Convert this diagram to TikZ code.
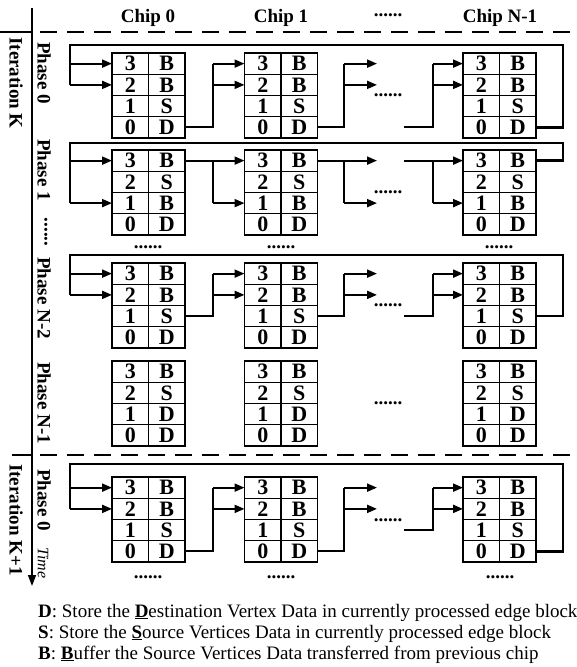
\documentclass[tikz,border=0pt]{standalone}
\usepackage{fontspec}
\setmainfont{Liberation Serif}
\usetikzlibrary{arrows.meta}
\tikzset{
 cell/.style={draw, line width=1.3pt, minimum width=36.5pt, minimum height=21.25pt, inner sep=0pt, outer sep=0pt, font=\fontsize{22}{22}\selectfont\bfseries},
 conn/.style={line width=2pt},
 arr/.style={line width=2pt, -{Triangle[length=10pt,width=8pt]}},
 fbl/.style={line width=2.5pt},
 lbl/.style={font=\fontsize{19}{19}\selectfont\bfseries, inner sep=0pt},
 vlbl/.style={lbl, rotate=-90},
 dotstyle/.style={font=\fontsize{19}{19}\selectfont\bfseries, inner sep=0pt},
 sepline/.style={line width=2pt, dash pattern=on 17pt off 10pt},
 legend/.style={font=\fontsize{19}{19}\selectfont, anchor=base west, inner sep=0pt}
}
\newcommand\chipbox[7]{%
 \node[cell,anchor=north west] (#1L3) at (#2,#3) {3};
 \node[cell,anchor=north west] (#1R3) at (#2+36.5,#3) {#4};
 \node[cell,anchor=north west] (#1L2) at (#2,#3+21.25) {2};
 \node[cell,anchor=north west] (#1R2) at (#2+36.5,#3+21.25) {#5};
 \node[cell,anchor=north west] (#1L1) at (#2,#3+42.5) {1};
 \node[cell,anchor=north west] (#1R1) at (#2+36.5,#3+42.5) {#6};
 \node[cell,anchor=north west] (#1L0) at (#2,#3+63.75) {0};
 \node[cell,anchor=north west] (#1R0) at (#2+36.5,#3+63.75) {#7};
}
\begin{document}
\begin{tikzpicture}[x=1pt,y=-1pt]
\useasboundingbox (0,0) rectangle (576,667);

% axis and separators
\coordinate (axT) at (32,8);
\coordinate (axB) at (32,586);
\draw[line width=1.5pt, -{Triangle[length=11pt,width=8pt]}] (axT) -- (axB);
\coordinate (s1a) at (0,32); \coordinate (s1b) at (32,32);
\coordinate (s1c) at (40,32); \coordinate (s1d) at (576,32);
\coordinate (s2a) at (12,455); \coordinate (s2b) at (32,455);
\coordinate (s2c) at (40,455); \coordinate (s2d) at (576,455);
\draw[line width=2pt] (s1a) -- (s1b);
\draw[line width=2pt] (s2a) -- (s2b);
\draw[sepline] (s1c) -- (s1d);
\draw[sepline] (s2c) -- (s2d);

% header
\node[lbl, anchor=base] (h0) at (148,22.5) {Chip 0};
\node[lbl, anchor=base] (h1) at (281,22.5) {Chip 1};
\node[dotstyle] (hd) at (388,15) {......};
\node[lbl, anchor=base] (h2) at (500,22.5) {Chip N-1};

% left labels
\node[vlbl] (itK) at (16,83) {Iteration K};
\node[vlbl] (itK1) at (16,520) {Iteration K+1};
\node[vlbl] (pA) at (44,73) {Phase 0};
\node[vlbl] (pB) at (44,170) {Phase 1};
\node[dotstyle, rotate=-90] (pdots) at (46,232) {......};
\node[vlbl] (pC) at (44,298) {Phase N-2};
\node[vlbl] (pD) at (44,403) {Phase N-1};
\node[vlbl] (pE) at (44,500) {Phase 0};
\node[font=\fontsize{16}{16}\selectfont\itshape, rotate=-90, inner sep=0pt] (time) at (43,563) {Time};

% shared x positions
\coordinate (jx1) at (213,0);
\coordinate (jx2) at (344,0);
\coordinate (jx3) at (433,0);
\coordinate (tipx) at (377,0);
\coordinate (srcx) at (404,0);

% ---------------- Phase 0 (K)
\chipbox{Aa}{112}{53}{B}{B}{S}{D}
\chipbox{Ab}{244.5}{53}{B}{B}{S}{D}
\chipbox{Ac}{463}{53}{B}{B}{S}{D}
\coordinate (AfR) at (563,45); \coordinate (AfL) at (70,45);
\draw[fbl] (AcR0.east) -| (AfR) -- (AfL) -- (AfL |- AaL2.west);
\draw[arr] (AfL |- AaL3.west) -- (AaL3.west);
\draw[arr] (AfL |- AaL2.west) -- (AaL2.west);
\draw[conn] (AaR0.east) -| (jx1 |- AbL3.west);
\draw[arr] (jx1 |- AbL3.west) -- (AbL3.west);
\draw[arr] (jx1 |- AbL2.west) -- (AbL2.west);
\draw[conn] (AbR0.east) -| (jx2 |- AbL3.west);
\draw[arr] (jx2 |- AbL3.west) -- (tipx |- AbL3.west);
\draw[arr] (jx2 |- AbL2.west) -- (tipx |- AbL2.west);
\draw[conn] (srcx |- AcL0.west) -| (jx3 |- AcL3.west);
\draw[arr] (jx3 |- AcL3.west) -- (AcL3.west);
\draw[arr] (jx3 |- AcL2.west) -- (AcL2.west);
\node[dotstyle] (Ad) at (388,95) {......};

% ---------------- Phase 1
\chipbox{Ba}{112}{150}{B}{S}{B}{D}
\chipbox{Bb}{244.5}{150}{B}{S}{B}{D}
\chipbox{Bc}{463}{150}{B}{S}{B}{D}
\coordinate (BfR) at (563,143); \coordinate (BfL) at (70,143);
\draw[fbl] (BcR3.east) -| (BfR) -- (BfL) -- (BfL |- BaL1.west);
\draw[arr] (BfL |- BaL3.west) -- (BaL3.west);
\draw[arr] (BfL |- BaL1.west) -- (BaL1.west);
\draw[arr] (BaR3.east) -- (BbL3.west);
\draw[conn] (jx1 |- BbL3.west) -- (jx1 |- BbL1.west);
\draw[arr] (jx1 |- BbL1.west) -- (BbL1.west);
\draw[arr] (BbR3.east) -- (tipx |- BbL3.west);
\draw[conn] (jx2 |- BbL3.west) -- (jx2 |- BbL1.west);
\draw[arr] (jx2 |- BbL1.west) -- (tipx |- BbL1.west);
\draw[arr] (srcx |- BcL3.west) -- (BcL3.west);
\draw[conn] (jx3 |- BcL3.west) -- (jx3 |- BcL1.west);
\draw[arr] (jx3 |- BcL1.west) -- (BcL1.west);
\node[dotstyle] (Bd) at (388,192) {......};
\node[dotstyle] (u0) at (148,247) {......};
\node[dotstyle] (u1) at (281,247) {......};
\node[dotstyle] (u2) at (499,247) {......};

% ---------------- Phase N-2
\chipbox{Ca}{112}{263}{B}{B}{S}{D}
\chipbox{Cb}{244.5}{263}{B}{B}{S}{D}
\chipbox{Cc}{463}{263}{B}{B}{S}{D}
\coordinate (CfR) at (563,255); \coordinate (CfL) at (70,255);
\draw[fbl] (CcR1.east) -| (CfR) -- (CfL) -- (CfL |- CaL2.west);
\draw[arr] (CfL |- CaL3.west) -- (CaL3.west);
\draw[arr] (CfL |- CaL2.west) -- (CaL2.west);
\draw[conn] (CaR1.east) -| (jx1 |- CbL3.west);
\draw[arr] (jx1 |- CbL3.west) -- (CbL3.west);
\draw[arr] (jx1 |- CbL2.west) -- (CbL2.west);
\draw[conn] (CbR1.east) -| (jx2 |- CbL3.west);
\draw[arr] (jx2 |- CbL3.west) -- (tipx |- CbL3.west);
\draw[arr] (jx2 |- CbL2.west) -- (tipx |- CbL2.west);
\draw[conn] (srcx |- CcL1.west) -| (jx3 |- CcL3.west);
\draw[arr] (jx3 |- CcL3.west) -- (CcL3.west);
\draw[arr] (jx3 |- CcL2.west) -- (CcL2.west);
\node[dotstyle] (Cd) at (388,305) {......};

% ---------------- Phase N-1
\chipbox{Da}{112}{361}{B}{S}{D}{D}
\chipbox{Db}{244.5}{361}{B}{S}{D}{D}
\chipbox{Dc}{463}{361}{B}{S}{D}{D}
\node[dotstyle] (Dd) at (388,403) {......};

% ---------------- Phase 0 (K+1)
\chipbox{Ea}{112}{477}{B}{B}{S}{D}
\chipbox{Eb}{244.5}{477}{B}{B}{S}{D}
\chipbox{Ec}{463}{477}{B}{B}{S}{D}
\coordinate (EfR) at (563,464); \coordinate (EfL) at (70,464);
\draw[fbl] (EcR0.east) -| (EfR) -- (EfL) -- (EfL |- EaL2.west);
\draw[arr] (EfL |- EaL3.west) -- (EaL3.west);
\draw[arr] (EfL |- EaL2.west) -- (EaL2.west);
\draw[conn] (EaR0.east) -| (jx1 |- EbL3.west);
\draw[arr] (jx1 |- EbL3.west) -- (EbL3.west);
\draw[arr] (jx1 |- EbL2.west) -- (EbL2.west);
\draw[conn] (EbR0.east) -| (jx2 |- EbL3.west);
\draw[arr] (jx2 |- EbL3.west) -- (tipx |- EbL3.west);
\draw[arr] (jx2 |- EbL2.west) -- (tipx |- EbL2.west);
\draw[conn] (srcx |- EcL1.west) -| (jx3 |- EcL3.west);
\draw[arr] (jx3 |- EcL3.west) -- (EcL3.west);
\draw[arr] (jx3 |- EcL2.west) -- (EcL2.west);
\node[dotstyle] (Ed) at (388,520) {......};
\node[dotstyle] (v0) at (148,577) {......};
\node[dotstyle] (v1) at (281,577) {......};
\node[dotstyle] (v2) at (500,577) {......};

% legend
\node[legend] (lg1) at (38,617) {\textbf{D}: Store the \underline{\textbf{D}}estination Vertex Data in currently processed edge block};
\node[legend] (lg2) at (38,638) {\textbf{S}: Store the \underline{\textbf{S}}ource Vertices Data in currently processed edge block};
\node[legend] (lg3) at (38,659) {\textbf{B}: \underline{\textbf{B}}uffer the Source Vertices Data transferred from previous chip};
\end{tikzpicture}
\end{document}
